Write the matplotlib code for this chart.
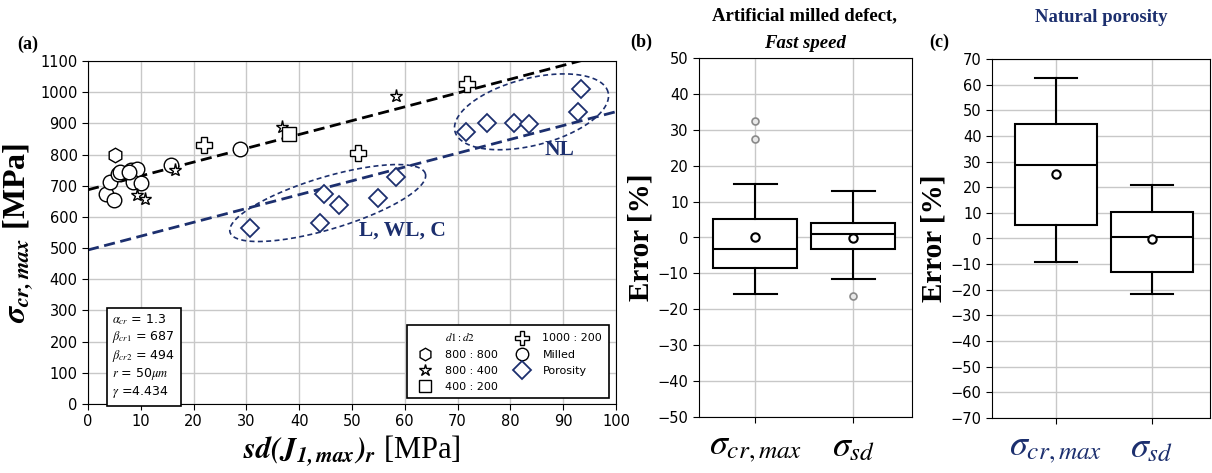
import numpy as np
import matplotlib
matplotlib.use("Agg")
import matplotlib.pyplot as plt
from matplotlib.lines import Line2D

plt.rcParams['font.family'] = ['DejaVu Sans']
plt.rcParams['mathtext.fontset'] = 'stix'

NAVY = '#1c2f6e'
SERIF = 'Liberation Serif'

# ---------------- data: panel (a) ----------------
hex_x = [5.1]
hex_y = [797]
star_x = [9.3, 10.8, 16.4, 36.8, 58.3]
star_y = [669, 658, 749, 888, 987]
square_x = [38.1]
square_y = [865]
plus_x = [22.0, 51.2, 71.7]
plus_y = [832, 805, 1027]
milled_x = [3.4, 4.9, 4.1, 5.6, 6.0, 8.2, 9.3, 8.6, 10.1, 7.8, 15.7, 28.8]
milled_y = [674, 653, 712, 738, 744, 749, 754, 712, 708, 744, 765, 818]
por_x = [30.6, 43.9, 44.7, 47.5, 54.9, 58.3, 71.5, 75.5, 80.7, 83.5, 92.8, 93.4]
por_y = [565, 581, 672, 639, 660, 728, 872, 902, 902, 897, 936, 1011]

alpha_cr = 1.3
beta_cr1 = 687
beta_cr2 = 494
gamma = 4.434

# ---------------- data: panels (b), (c) ----------------
box_labels = [r'$\sigma_{cr,max}$', r'$\sigma_{sd}$']
b_whislo = [-15.8, -11.5]
b_q1 = [-8.4, -3.2]
b_med = [-3.1, 0.9]
b_q3 = [5.1, 4.1]
b_whishi = [14.8, 12.9]
b_mean = [0.0, -0.2]
b_fliers = [[27.3, 32.5], [-16.2]]

c_whislo = [-9.2, -21.8]
c_q1 = [5.1, -13.2]
c_med = [28.7, 0.7]
c_q3 = [44.5, 10.2]
c_whishi = [62.6, 20.9]
c_mean = [25.3, -0.3]
c_fliers = [[], []]

W, H = 1212, 473
fig = plt.figure(figsize=(W / 100, H / 100), dpi=100)

def px_axes(l, t, r, b):
    return fig.add_axes([l / W, 1 - b / H, (r - l) / W, (b - t) / H])

# ---------------- panel (a) ----------------
ax = px_axes(88, 61, 616, 404)
ax.set_xlim(0, 100)
ax.set_ylim(0, 1100)
ax.set_xticks(np.arange(0, 101, 10))
ax.set_yticks(np.arange(0, 1101, 100))
ax.grid(True, color='#c8c8c8', lw=1.0)
ax.set_axisbelow(True)
ax.tick_params(labelsize=10.5, length=4)

xx = np.array([0, 100])
ax.plot(xx, beta_cr1 + gamma * xx, ls=(0, (4, 2)), color='black', lw=2.0, zorder=2)
ax.plot(xx, beta_cr2 + gamma * xx, ls=(0, (4, 2)), color=NAVY, lw=2.0, zorder=2)

def ellipse(cx, cy, ax_vec, mn_vec):
    t = np.linspace(0, 2 * np.pi, 200)
    ex = cx + ax_vec[0] * np.cos(t) + mn_vec[0] * np.sin(t)
    ey = cy + ax_vec[1] * np.cos(t) + mn_vec[1] * np.sin(t)
    return ex, ey

ex, ey = ellipse(45.4, 644.5, (18.5, 94), (-1.42, 80))
ax.plot(ex, ey, ls=(0, (3, 2)), color=NAVY, lw=1.2, zorder=2)
ex, ey = ellipse(84.0, 937, (14.5, 63), (-1.6, 104))
ax.plot(ex, ey, ls=(0, (3, 2)), color=NAVY, lw=1.2, zorder=2)

mk = dict(ls='none', mfc='white', mec='black', mew=1.0, zorder=3)
ax.plot(milled_x, milled_y, marker='o', ms=10.5, **mk)
ax.plot(hex_x, hex_y, marker='h', ms=10.5, **mk)
ax.plot(star_x, star_y, marker='*', ms=9.5, **mk)
ax.plot(square_x, square_y, marker='s', ms=10, **mk)
ax.plot(plus_x, plus_y, marker='P', ms=11, **mk)
ax.plot(por_x, por_y, marker='D', ls='none', mfc='white', mec=NAVY, mew=1.3, ms=9.5, zorder=3)

ax.text(59.5, 556, 'L, WL, C', color=NAVY, fontsize=15.5, fontweight='bold',
        family=SERIF, ha='center', va='center')
ax.text(89.3, 813, 'NL', color=NAVY, fontsize=15.5, fontweight='bold',
        family=SERIF, ha='center', va='center')

ax.text(4.6, 153,
        r'$\alpha_{cr}$' + f' = {alpha_cr}\n' +
        r'$\beta_{cr1}$' + f' = {beta_cr1}\n' +
        r'$\beta_{cr2}$' + f' = {beta_cr2}\n' +
        r'$r$ = 50$\mu m$' + '\n' +
        r'$\gamma$' + f' ={gamma}',
        fontsize=9, va='center', ha='left', linespacing=1.2,
        bbox=dict(boxstyle='square,pad=0.45', fc='white', ec='black', lw=1.2))

h_blank = Line2D([], [], ls='none', marker='none')
h_hex = Line2D([], [], marker='h', ms=9, **mk)
h_star = Line2D([], [], marker='*', ms=9, **mk)
h_sq = Line2D([], [], marker='s', ms=9, **mk)
h_plus = Line2D([], [], marker='P', ms=10, **mk)
h_circ = Line2D([], [], marker='o', ms=9, **mk)
h_dia = Line2D([], [], marker='D', ls='none', mfc='white', mec=NAVY, mew=1.3, ms=9)
leg = ax.legend([h_blank, h_hex, h_star, h_sq, h_plus, h_circ, h_dia],
                [r'$d1:d2$', '800 : 800', '800 : 400', '400 : 200', '1000 : 200', 'Milled', 'Porosity'],
                ncol=2, loc='lower right', fontsize=8, frameon=True, fancybox=False,
                edgecolor='black', framealpha=1, borderpad=0.6, labelspacing=0.55,
                handletextpad=0.8, columnspacing=1.2, bbox_to_anchor=(0.997, 0.0))
leg.get_frame().set_linewidth(1.2)

ax.set_ylabel(r'$\mathbfit{\sigma_{cr,max}}$' + ' [MPa]', fontsize=23, family=SERIF,
              fontweight='bold', labelpad=4)
ax.set_xlabel(r'$\mathbfit{sd(J_{1,max})_r}$' + ' [MPa]', fontsize=22, family=SERIF, labelpad=3)

fig.text(28 / W, 1 - 44 / H, '(a)', fontsize=13, fontweight='bold', family=SERIF,
         ha='center', va='center')

# ---------------- box plots ----------------
def make_stats(whislo, q1, med, q3, whishi, mean, fliers, labels):
    return [dict(whislo=whislo[i], q1=q1[i], med=med[i], q3=q3[i], whishi=whishi[i],
                 mean=mean[i], fliers=fliers[i], label=labels[i]) for i in range(len(labels))]

def draw_box(axb, stats, ylim, yticks, xlim, tick_color):
    axb.bxp(stats, positions=[1, 2], widths=0.86, showmeans=True, patch_artist=True,
            boxprops=dict(facecolor='white', edgecolor='black', lw=1.5),
            medianprops=dict(color='black', lw=1.5),
            whiskerprops=dict(color='black', lw=1.5),
            capprops=dict(color='black', lw=1.5),
            capwidths=0.44,
            meanprops=dict(marker='o', mfc='white', mec='black', mew=1.5, ms=6),
            flierprops=dict(marker='o', mfc='#e8e8e8', mec='#8a8a8a', mew=1.2, ms=5))
    axb.set_xlim(*xlim)
    axb.set_ylim(*ylim)
    axb.set_yticks(yticks)
    axb.grid(True, color='#c8c8c8', lw=1.0)
    axb.set_axisbelow(True)
    axb.tick_params(axis='y', labelsize=10.5, length=4)
    axb.tick_params(axis='x', labelsize=26, length=4, labelcolor=tick_color, pad=5)
    axb.set_ylabel('Error [%]', fontsize=21, fontweight='bold', family=SERIF, labelpad=2)

axb = px_axes(699, 58, 912, 417)
draw_box(axb, make_stats(b_whislo, b_q1, b_med, b_q3, b_whishi, b_mean, b_fliers, box_labels),
         (-50, 50), np.arange(-50, 51, 10), (0.424, 2.6), 'black')

axc = px_axes(992, 59, 1210, 418)
draw_box(axc, make_stats(c_whislo, c_q1, c_med, c_q3, c_whishi, c_mean, c_fliers, box_labels),
         (-70, 70), np.arange(-70, 71, 10), (0.331, 2.61), NAVY)

fig.text(805 / W, 1 - 16 / H, 'Artificial milled defect,', fontsize=13.5, fontweight='bold',
         family=SERIF, ha='center', va='center')
fig.text(805 / W, 1 - 43 / H, 'Fast speed', fontsize=13.5, fontweight='bold', style='italic',
         family=SERIF, ha='center', va='center')
fig.text(1101 / W, 1 - 17 / H, 'Natural porosity', fontsize=13.5, fontweight='bold',
         family=SERIF, ha='center', va='center', color=NAVY)
fig.text(641 / W, 1 - 42 / H, '(b)', fontsize=13, fontweight='bold', family=SERIF,
         ha='center', va='center')
fig.text(939 / W, 1 - 42 / H, '(c)', fontsize=13, fontweight='bold', family=SERIF,
         ha='center', va='center')

fig.savefig('out.png', dpi=100)
